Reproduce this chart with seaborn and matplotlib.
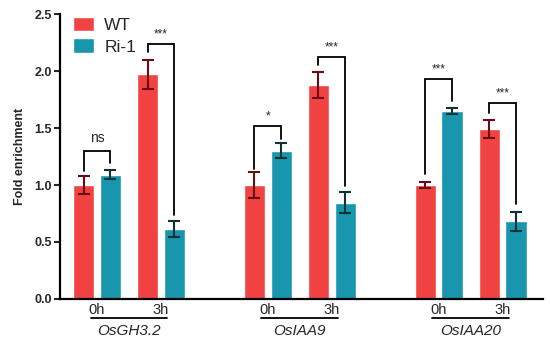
import pandas as pd
import matplotlib.pyplot as plt
import seaborn as sns

# values
genes = ["OsGH3.2", "OsIAA9", "OsIAA20"]
times = ["0h", "3h"]
wt_mean = [1.00, 1.97, 1.00, 1.88, 1.00, 1.49]
wt_err = [0.08, 0.13, 0.11, 0.115, 0.03, 0.08]
ri_mean = [1.09, 0.61, 1.30, 0.845, 1.65, 0.68]
ri_err = [0.04, 0.07, 0.065, 0.09, 0.025, 0.08]

# significance brackets: (pair index, left leg end, top, right leg end, label)
sig_pair = [0, 1, 2, 3, 4, 5]
sig_left = [1.12, 2.17, 1.14, 2.05, 1.10, 1.63]
sig_top = [1.30, 2.24, 1.52, 2.125, 1.93, 1.72]
sig_right = [1.19, 0.74, 1.40, 0.99, 1.74, 0.83]
sig_text = ["ns", "***", "*", "***", "***", "***"]

WT_COLOR = "#f24343"
RI_COLOR = "#1896ad"
GENE_STEP = 2.67

rows = []
for g in range(len(genes)):
    for t in range(len(times)):
        i = g * len(times) + t
        pos = g * GENE_STEP + t
        rows.append({"pos": pos, "genotype": "WT", "value": wt_mean[i], "err": wt_err[i]})
        rows.append({"pos": pos, "genotype": "Ri-1", "value": ri_mean[i], "err": ri_err[i]})
df = pd.DataFrame(rows)

sns.set_style("ticks")
plt.rcParams["font.family"] = ["Liberation Sans", "DejaVu Sans"]

fig = plt.figure(figsize=(5.5, 3.44), dpi=100)
ax = fig.add_axes([0.109, 0.131, 0.878, 0.828])

sns.barplot(data=df, x="pos", y="value", hue="genotype", hue_order=["WT", "Ri-1"],
            palette=[WT_COLOR, RI_COLOR], saturation=1, native_scale=True,
            width=0.84, gap=0.21, errorbar=None, ax=ax)

# error bars on top of the bars
centers = {}
for cont, geno, ecol in zip(ax.containers, ["WT", "Ri-1"], ["#6a0c16", "#0c3436"]):
    sub = df[df["genotype"] == geno].sort_values("pos")
    xs = [b.get_x() + b.get_width() / 2 for b in cont]
    centers[geno] = xs
    ax.errorbar(xs, sub["value"], yerr=sub["err"], fmt="none", ecolor=ecol,
                elinewidth=1.5, capsize=4.5, capthick=1.5, zorder=3)

# significance brackets
for p, yl, yt, yr, txt in zip(sig_pair, sig_left, sig_top, sig_right, sig_text):
    x1 = centers["WT"][p]
    x2 = centers["Ri-1"][p]
    ax.plot([x1, x1, x2, x2], [yl, yt, yt, yr], color="black", lw=1.3,
            solid_joinstyle="miter", zorder=4)
    if txt == "ns":
        ax.text((x1 + x2) / 2, yt + 0.05, txt, ha="center", va="bottom", fontsize=10)
    else:
        ax.text((x1 + x2) / 2, yt + 0.03, txt, ha="center", va="bottom", fontsize=8.5)

ax.set_ylim(0, 2.5)
ax.set_xlim(-0.58, 6.97)
ax.set_yticks([0, 0.5, 1.0, 1.5, 2.0, 2.5])
ax.set_yticklabels(["0.0", "0.5", "1.0", "1.5", "2.0", "2.5"], fontweight="bold", fontsize=9)
ax.set_ylabel("Fold enrichment", fontweight="bold", fontsize=9, labelpad=6)
ax.set_xlabel("")

tick_pos = sorted(df["pos"].unique())
ax.set_xticks(tick_pos)
ax.set_xticklabels(times * len(genes), fontsize=10.5)
ax.tick_params(axis="x", length=0, pad=3)
ax.tick_params(axis="y", length=4, width=1.5, pad=2)

for side in ["top", "right"]:
    ax.spines[side].set_visible(False)
for side in ["left", "bottom"]:
    ax.spines[side].set_linewidth(1.6)
    ax.spines[side].set_color("black")

# gene names with an underline spanning each pair
trans = ax.get_xaxis_transform()
for g, name in enumerate(genes):
    mid = g * GENE_STEP + 0.5
    ax.plot([mid - 0.6, mid + 0.6], [-0.068, -0.068], color="black", lw=1.3,
            transform=trans, clip_on=False)
    ax.text(mid, -0.113, name, style="italic", fontsize=11, ha="center", va="center",
            transform=trans)

sns.move_legend(ax, "upper left", bbox_to_anchor=(-0.005, 1.045), frameon=False,
                title=None, fontsize=12.5, handlelength=1.2, handleheight=0.9,
                labelspacing=0.3, handletextpad=0.6)

fig.savefig("out.png", dpi=100)
plt.close(fig)
